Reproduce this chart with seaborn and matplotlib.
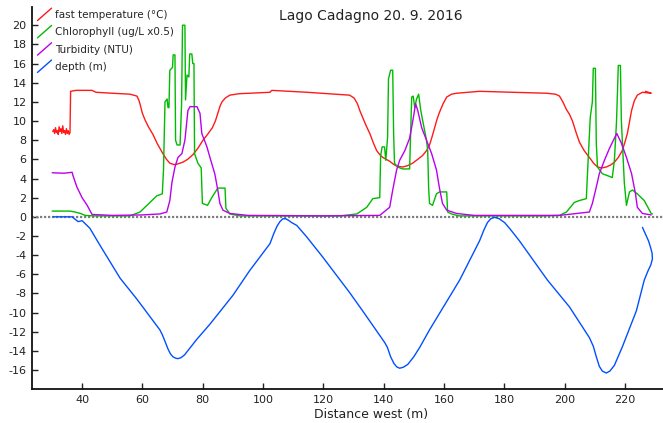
import matplotlib
matplotlib.use("Agg")
import matplotlib.pyplot as plt
from matplotlib.lines import Line2D
from matplotlib.legend_handler import HandlerLine2D
import seaborn as sns

# values
temp_x = [30.3, 30.6, 30.9, 31.2, 31.5, 31.8, 32.1, 32.4, 32.7, 33.0, 33.3, 33.6, 33.9, 34.2, 34.5,
          34.8, 35.1, 35.4, 35.7, 36.0,
          36.2, 38.0, 43.3, 44.6, 50.0, 55.9, 58.2, 58.8, 59.2, 60.0, 60.9, 62.0, 63.5, 65.0, 66.8,
          68.0, 69.1, 70.5, 71.5, 73.4, 75.0, 76.8, 78.5, 80.1, 81.6, 83.2, 84.2, 85.0, 85.8, 86.4,
          87.5, 89.0, 92.0, 95.6, 102.3, 102.9, 114.5, 128.7, 130.2, 131.3, 132.2, 133.0, 134.2,
          135.4, 136.6, 137.7, 138.7, 139.7, 142.0, 143.2, 144.3, 146.3, 148.0, 149.6, 151.3, 152.9,
          154.2, 155.2, 156.0, 156.9, 157.7, 158.5, 159.7, 160.9, 162.5, 164.2, 171.8, 182.7, 194.0,
          197.0, 198.3, 199.4, 200.6, 201.6, 202.6, 203.8, 204.9, 206.5, 208.2, 209.6, 210.9, 212.3,
          213.8, 215.2, 216.5, 217.8, 219.1, 220.0, 220.8, 221.5, 222.2, 223.1, 224.1, 225.8, 228.7,
          226.8]
temp_y = [8.9, 9.1, 8.7, 9.3, 8.8, 9.0, 8.6, 9.4, 8.9, 9.2, 8.7, 9.5, 8.8, 9.0, 8.6,
          9.2, 8.7, 9.0, 8.6, 8.8,
          13.1, 13.2, 13.2, 13.0, 12.9, 12.8, 12.6, 12.2, 11.8, 10.8, 10.1, 9.4, 8.6, 7.6, 6.6,
          6.0, 5.6, 5.45, 5.5, 5.7, 6.0, 6.5, 7.2, 8.0, 8.6, 9.3, 10.0, 10.8, 11.6, 12.0,
          12.4, 12.7, 12.85, 12.9, 13.0, 13.2, 13.0, 12.7, 12.4, 11.8, 11.0, 10.4, 9.5,
          8.7, 7.7, 6.9, 6.5, 6.2, 5.8, 5.5, 5.3, 5.2, 5.35, 5.6, 6.0, 6.4,
          6.9, 7.5, 8.3, 9.3, 10.2, 10.9, 11.8, 12.5, 12.8, 12.9, 13.1, 13.0, 12.9,
          12.8, 12.6, 12.0, 11.2, 10.7, 10.0, 8.8, 7.8, 6.9, 6.2, 5.6, 5.2, 5.1,
          5.2, 5.4, 5.7, 6.2, 6.9, 7.8, 8.7, 9.9, 11.1, 12.1, 12.7, 13.0, 12.9,
          13.1]

chl_x = [30.1, 36.0, 37.7, 39.5, 41.0, 44.0, 55.9, 59.2, 62.5, 64.8, 66.6, 67.0, 67.5, 68.2, 68.5,
         68.8, 69.1, 70.0, 70.2, 70.8, 71.0, 71.5, 72.5, 73.0, 73.3, 74.1, 74.3, 74.8, 75.4, 75.7,
         76.4, 76.7, 77.1, 77.3, 78.4, 79.5, 79.9, 81.6, 83.0, 85.0, 87.4, 87.7, 89.0, 92.3, 125.4,
         131.1, 134.4, 136.4, 138.7, 139.0, 139.5, 140.3, 140.7, 141.3, 141.6, 142.3, 143.0, 143.3,
         143.6, 144.6, 146.3, 148.6, 149.3, 149.8, 150.3, 150.9, 151.6, 152.3, 152.9, 154.2, 154.6,
         154.9, 155.2, 156.2, 157.5, 158.5, 160.9, 161.2, 162.5, 165.0, 193.3, 198.3, 200.6, 203.2,
         204.9, 207.2, 207.5, 208.5, 209.2, 209.5, 210.2, 210.5, 210.9, 212.5, 214.2, 215.8, 216.5,
         217.2, 217.8, 218.5, 218.8, 219.8, 220.5, 221.5, 222.5, 224.1, 226.4, 228.7, 229.1]
chl_y = [0.6, 0.6, 0.5, 0.35, 0.15, 0.1, 0.1, 0.5, 1.5, 2.2, 2.4, 4.9, 12.0, 12.3, 11.4,
         11.4, 15.3, 15.6, 16.9, 16.9, 8.0, 7.5, 7.5, 11.8, 20.0, 20.0, 12.2, 14.8, 14.6, 17.0,
         17.0, 16.0, 16.0, 6.6, 5.6, 5.1, 1.4, 1.2, 2.0, 3.0, 3.0, 0.9, 0.3, 0.1, 0.1,
         0.3, 1.0, 1.9, 2.0, 6.4, 7.3, 7.3, 5.9, 8.3, 14.4, 15.3, 15.3, 8.7,
         5.6, 5.2, 5.0, 5.0, 12.5, 12.6, 11.4, 12.3, 12.8, 11.1, 10.1, 8.0, 6.9,
         3.1, 1.4, 1.2, 2.4, 2.6, 2.6, 0.5, 0.3, 0.1, 0.1, 0.15, 0.5, 1.5,
         1.7, 1.9, 4.0, 10.4, 12.0, 15.5, 15.5, 7.7, 5.2, 4.5, 4.3, 4.1, 5.9,
         9.9, 15.8, 15.8, 10.1, 3.5, 1.2, 2.6, 2.8, 2.4, 1.7, 0.35, 0.3]

turb_x = [30.1, 34.0, 36.7, 37.0, 38.3, 40.0, 41.7, 43.3, 50.0, 60.0, 65.8, 67.5, 68.1, 69.1, 69.8,
          70.8, 71.8, 73.1, 74.1, 75.1, 75.8, 78.1, 79.1, 79.7, 81.4, 82.4, 84.0, 85.0, 85.7, 86.7,
          89.0, 95.0, 120.0, 138.7, 142.0, 143.0, 144.3, 145.3, 147.0, 148.6, 149.6, 150.6, 151.3,
          152.6, 154.2, 155.9, 157.5, 158.5, 159.5, 160.9, 164.2, 170.0, 198.3, 208.2, 209.2, 210.5,
          211.5, 213.2, 214.8, 216.5, 217.3, 218.8, 220.5, 222.2, 223.5, 224.1, 225.8, 228.7]
turb_y = [4.6, 4.55, 4.65, 4.3, 3.1, 2.0, 1.2, 0.25, 0.15, 0.2, 0.3, 0.45, 0.5, 1.7, 3.6,
          5.2, 6.2, 6.6, 8.0, 11.1, 11.5, 11.5, 10.8, 8.7, 7.3, 6.2, 4.5, 2.8, 1.4, 0.7,
          0.35, 0.15, 0.1, 0.15, 1.0, 2.8, 4.9, 5.9, 6.9, 8.2, 9.9, 11.8, 11.1,
          9.3, 8.0, 6.6, 4.9, 3.0, 1.4, 0.7, 0.35, 0.15, 0.15, 0.5, 1.4, 3.1,
          4.5, 5.9, 7.1, 8.2, 8.7, 7.7, 6.2, 4.5, 2.4, 1.0, 0.35, 0.2]

depth_x = [30.4, 36.7, 38.7, 40.0, 41.0, 42.6, 46.0, 52.6, 58.2, 65.8, 66.6, 67.5, 68.5, 69.3,
           70.1, 71.0, 71.8, 72.8, 74.0, 76.0, 78.0, 82.4, 90.0, 95.6, 102.3, 103.5, 104.6, 105.6,
           106.6, 107.5, 108.4, 109.5, 111.2, 114.5, 119.8, 128.7, 133.0, 140.3, 141.2, 142.3,
           143.4, 144.3, 145.3, 146.5, 148.0, 150.0, 152.0, 155.2, 165.2, 171.8, 173.2, 174.4,
           175.5, 176.8, 178.3, 180.1, 182.0, 185.0, 194.3, 201.6, 208.2, 209.5, 210.5, 211.5,
           212.5, 213.8, 215.0, 216.5, 218.0, 219.1, 223.8, 226.4, 227.7, 228.6, 229.1, 229.0,
           228.5, 227.8, 226.8, 225.8]
depth_y = [0.0, 0.0, -0.5, -0.4, -0.7, -1.2, -3.0, -6.4, -8.6, -11.8, -12.3, -13.0, -13.8, -14.3,
           -14.6, -14.75, -14.8, -14.7, -14.4, -13.6, -12.8, -11.2, -8.2, -5.6, -2.8, -1.8, -1.0, -0.5,
           -0.2, -0.2, -0.35, -0.6, -0.9, -2.1, -4.2, -7.9, -9.8, -13.1, -13.6, -14.6,
           -15.3, -15.65, -15.8, -15.7, -15.4, -14.6, -13.6, -11.8, -6.6, -2.5, -1.4, -0.6,
           -0.2, -0.05, -0.2, -0.6, -1.3, -2.5, -6.6, -9.4, -12.6, -13.5, -14.6, -15.6,
           -16.1, -16.3, -16.1, -15.5, -14.4, -13.6, -9.8, -6.6, -5.6, -5.0, -4.4, -3.8,
           -3.2, -2.5, -1.8, -1.1]

labels = ["fast temperature (°C)", "Chlorophyll (ug/L x0.5)", "Turbidity (NTU)", "depth (m)"]
colors = ["#ff1a1a", "#00bb00", "#bb00ee", "#0050ff"]
x_ticks = [40, 60, 80, 100, 120, 140, 160, 180, 200, 220]
y_ticks = list(range(-16, 21, 2))


class DiagHandler(HandlerLine2D):
    # legend handle drawn as a short slanted stroke
    def create_artists(self, legend, orig_handle, xdescent, ydescent, width, height, fontsize, trans):
        x0 = -xdescent
        y0 = -ydescent
        line = Line2D([x0, x0 + width], [y0 - 0.35 * height, y0 + 1.35 * height])
        self.update_prop(line, orig_handle, legend)
        line.set_transform(trans)
        return [line]


sns.set_style("ticks")
plt.rcParams["font.family"] = ["DejaVu Sans"]
plt.rcParams["axes.unicode_minus"] = False

fig = plt.figure(figsize=(6.63, 4.23), dpi=100)
ax = fig.add_axes([32.3 / 663, 33.7 / 423, 677.7 / 663, 382.3 / 423])

series = [(temp_x, temp_y), (chl_x, chl_y), (turb_x, turb_y), (depth_x, depth_y)]
for (xs, ys), lab, col in zip(series, labels, colors):
    sns.lineplot(x=xs, y=ys, sort=False, estimator=None, color=col, lw=1.0, label=lab, ax=ax)

ax.axhline(0, color="#808080", lw=1.6, ls=(0, (1.0, 0.8)), zorder=1)

ax.set_xlim(23.5, 248.2)
ax.set_ylim(-18, 21.9)
ax.set_xticks(x_ticks)
ax.set_yticks(y_ticks)
ax.tick_params(direction="in", length=4, width=1, labelsize=8, colors="#222222", pad=4)
for s in ["top", "right"]:
    ax.spines[s].set_visible(False)
for s in ["left", "bottom"]:
    ax.spines[s].set_linewidth(1.3)
    ax.spines[s].set_color("#111111")

ax.set_xlabel("Distance west (m)", fontsize=9, color="#222222", labelpad=2)
ax.set_ylabel("")
ax.set_title("Lago Cadagno 20. 9. 2016", fontsize=10, color="#222222", y=0.944)

handles, labs = ax.get_legend_handles_labels()
ax.legend(handles, labs, handler_map={Line2D: DiagHandler()}, loc="upper left",
          bbox_to_anchor=(37.5 / 663, 1 - 10 / 423), bbox_transform=fig.transFigure,
          frameon=False, fontsize=7.5, handlelength=1.35, handletextpad=0.35,
          labelspacing=0.7, borderpad=0, borderaxespad=0)

fig.savefig("out.png", dpi=100)
